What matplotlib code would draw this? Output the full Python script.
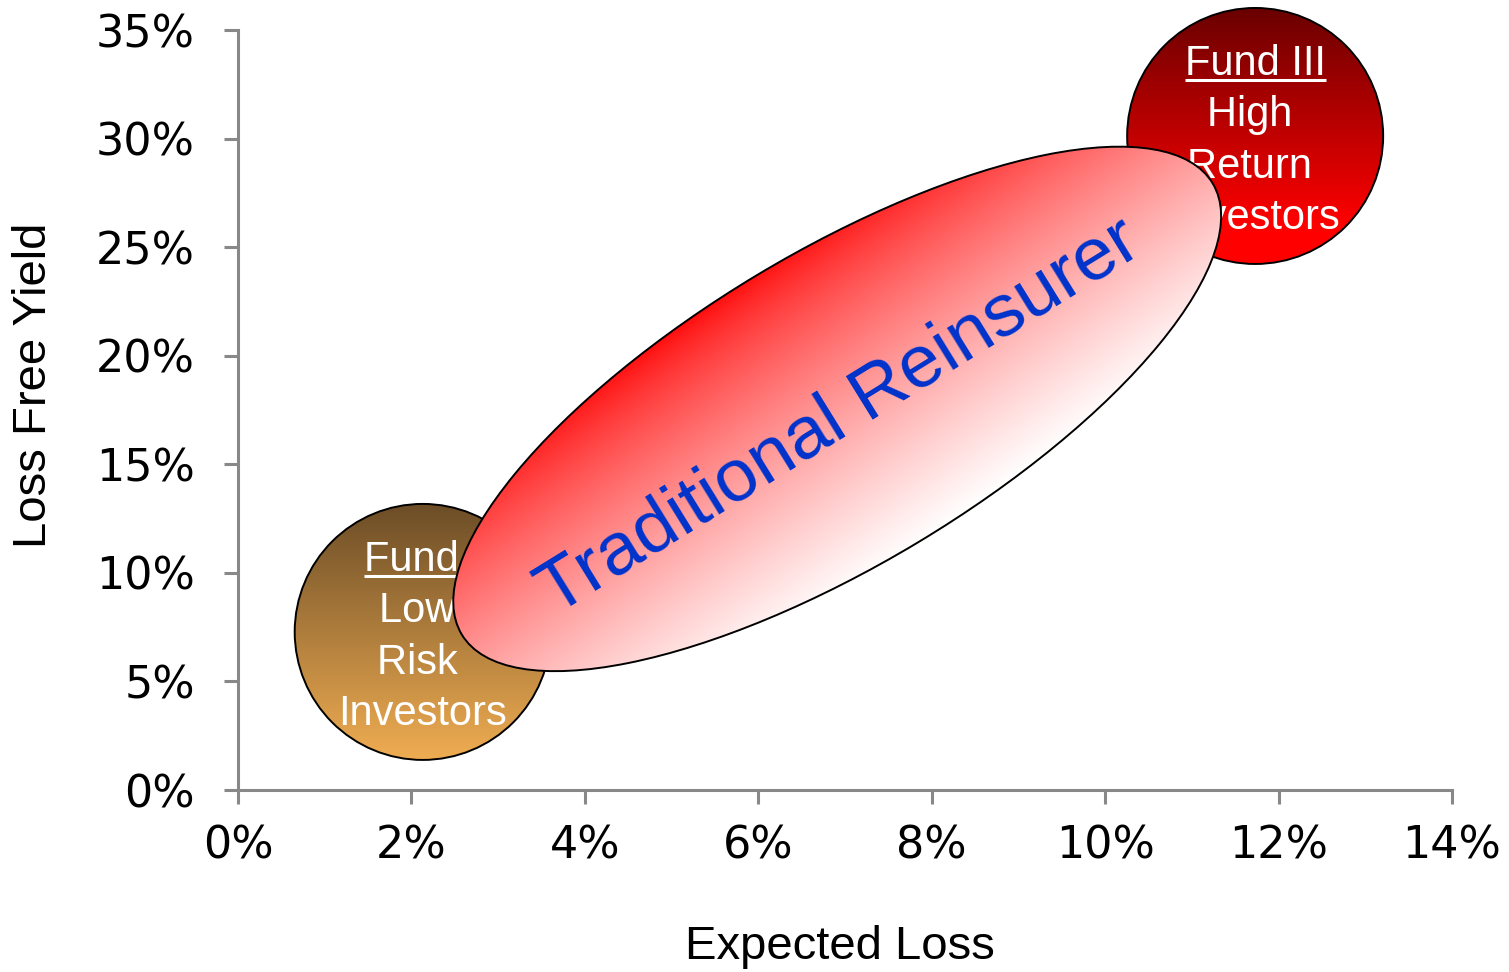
import numpy as np
import matplotlib
matplotlib.use("Agg")
import matplotlib.pyplot as plt
from matplotlib.patches import Circle, Ellipse
from matplotlib.transforms import ScaledTranslation
from matplotlib.lines import Line2D
from matplotlib.colors import to_rgb

# ---------------- data ----------------
x_ticks = [0, 2, 4, 6, 8, 10, 12, 14]
y_ticks = [0, 5, 10, 15, 20, 25, 30, 35]
x_tick_labels = ["0%", "2%", "4%", "6%", "8%", "10%", "12%", "14%"]
y_tick_labels = ["0%", "5%", "10%", "15%", "20%", "25%", "30%", "35%"]

fund_names = ["Fund I", "Fund III"]
fund_descriptions = [["Low ", "Risk ", "Investors"], ["High ", "Return ", "Investors"]]
fund_expected_loss = [2.13, 11.73]   # % expected loss (bubble centre)
fund_yield = [7.28, 30.12]           # % loss free yield (bubble centre)

reinsurer_name = "Traditional Reinsurer"
reinsurer_expected_loss = 6.91
reinsurer_yield = 17.55

x_label = "Expected Loss"
y_label = "Loss Free Yield"

# ---------------- styles ----------------
W, H, DPI = 1509, 972, 100
AXIS_GREY = "#888888"
fund_top_colors = ["#6c4d27", "#6a0000"]
fund_bottom_colors = ["#f0ad52", "#ff0000"]
fund_grad_span = [1.0, 0.85]
bubble_radius_px = 128
ell_a_px, ell_b_px, ell_angle = 438, 156, 31.0
SANS = ["Liberation Sans", "DejaVu Sans"]

fig = plt.figure(figsize=(W / DPI, H / DPI), dpi=DPI)
ax = fig.add_axes([238 / W, (H - 790) / H, (1452 - 238) / W, (790 - 30) / H])
ax.set_xlim(x_ticks[0], x_ticks[-1])
ax.set_ylim(y_ticks[0], y_ticks[-1])
ax.set_autoscale_on(False)

for s in ["top", "right"]:
    ax.spines[s].set_visible(False)
for s in ["left", "bottom"]:
    ax.spines[s].set_color(AXIS_GREY)
    ax.spines[s].set_linewidth(2.2)

ax.set_xticks(x_ticks)
ax.set_xticklabels(x_tick_labels, family="DejaVu Sans", fontsize=32)
ax.set_yticks(y_ticks)
ax.set_yticklabels(y_tick_labels, family="DejaVu Sans", fontsize=32)
ax.tick_params(axis="both", direction="out", length=10, width=2.2, color=AXIS_GREY)
ax.tick_params(axis="y", pad=21)
ax.tick_params(axis="x", pad=15)

ax.set_xlabel(x_label, fontsize=34, family=SANS, va="center")
ax.xaxis.set_label_coords(0.4959, -0.207)
ax.set_ylabel(y_label, fontsize=34, family=SANS, va="center")
ax.yaxis.set_label_coords(-0.168, 0.532)


def gradient_fill(patch, color_fn, z):
    patch.set_facecolor("none")
    patch.set_edgecolor("black")
    patch.set_linewidth(1.4)
    patch.set_zorder(z + 0.1)
    patch.set_clip_on(False)
    ax.add_patch(patch)
    bb = patch.get_path().get_extents(patch.get_transform())
    nx = ny = 500
    xs = np.linspace(bb.x0, bb.x1, nx)
    ys = np.linspace(bb.y0, bb.y1, ny)
    X, Y = np.meshgrid(xs, ys)
    rgb = np.clip(color_fn(X, Y), 0, 1)
    inv = ax.transData.inverted()
    (dx0, dy0), (dx1, dy1) = inv.transform([[bb.x0, bb.y0], [bb.x1, bb.y1]])
    im = ax.imshow(rgb, extent=(dx0, dx1, dy0, dy1), origin="lower",
                   aspect="auto", interpolation="bilinear", zorder=z,
                   clip_path=patch)
    im.set_clip_box(fig.bbox)
    return im


renderer = fig.canvas.get_renderer()

# ---------------- fund bubbles ----------------
for i, (name, desc) in enumerate(zip(fund_names, fund_descriptions)):
    cx, cy = fund_expected_loss[i], fund_yield[i]
    offs = ScaledTranslation(cx, cy, ax.transData)
    circ = Circle((0, 0), bubble_radius_px, transform=offs)
    dcx, dcy = ax.transData.transform((cx, cy))
    top_c = np.array(to_rgb(fund_top_colors[i]))
    bot_c = np.array(to_rgb(fund_bottom_colors[i]))
    span = fund_grad_span[i]

    def cfn(X, Y, top_c=top_c, bot_c=bot_c, dcy=dcy, span=span):
        s = (dcy + bubble_radius_px - Y) / (2 * bubble_radius_px) / span
        s = np.clip(s, 0, 1)[..., None]
        return top_c * (1 - s) + bot_c * s

    z = 2 + i
    gradient_fill(circ, cfn, z)
    lines = [name] + desc
    base = [61, 9.7, -41.6, -92.9]
    for j, line in enumerate(lines):
        t = ax.text(0, base[j], line, transform=offs, ha="center", va="baseline",
                    fontsize=30, color="white", family=SANS, zorder=z + 0.2)
        if j == 0:
            w = t.get_window_extent(renderer).width
            ax.add_line(Line2D([-w / 2, w / 2], [base[j] - 5.5] * 2, transform=offs,
                               color="white", lw=2.2, zorder=z + 0.2,
                               solid_capstyle="butt"))

# ---------------- traditional reinsurer ellipse ----------------
offs = ScaledTranslation(reinsurer_expected_loss, reinsurer_yield, ax.transData)
ell = Ellipse((0, 0), 2 * ell_a_px, 2 * ell_b_px, angle=ell_angle, transform=offs)
ecx, ecy = ax.transData.transform((reinsurer_expected_loss, reinsurer_yield))
th = np.deg2rad(ell_angle)
e1 = np.array([np.cos(th), np.sin(th)])
e2 = np.array([-np.sin(th), np.cos(th)])
g_ang = np.deg2rad(35 - 90)
u = np.array([np.cos(g_ang), np.sin(g_ang)])
hext = np.sqrt((ell_a_px * u @ e1) ** 2 + (ell_b_px * u @ e2) ** 2)
red = np.array(to_rgb("#ff0a0a"))
white = np.array([1.0, 1.0, 1.0])


def efn(X, Y):
    p = (X - ecx) * u[0] + (Y - ecy) * u[1]
    s = np.clip((p / hext + 1) / 2, 0, 1) ** 0.75
    s = s[..., None]
    return red * (1 - s) + white * s


gradient_fill(ell, efn, 5)
ax.text(6.93, 17.2, reinsurer_name, rotation=31.7,
        rotation_mode="anchor", ha="center", va="center", fontsize=54,
        color="#0033cc", family=SANS, zorder=5.3)

fig.savefig("out.png", dpi=DPI)
